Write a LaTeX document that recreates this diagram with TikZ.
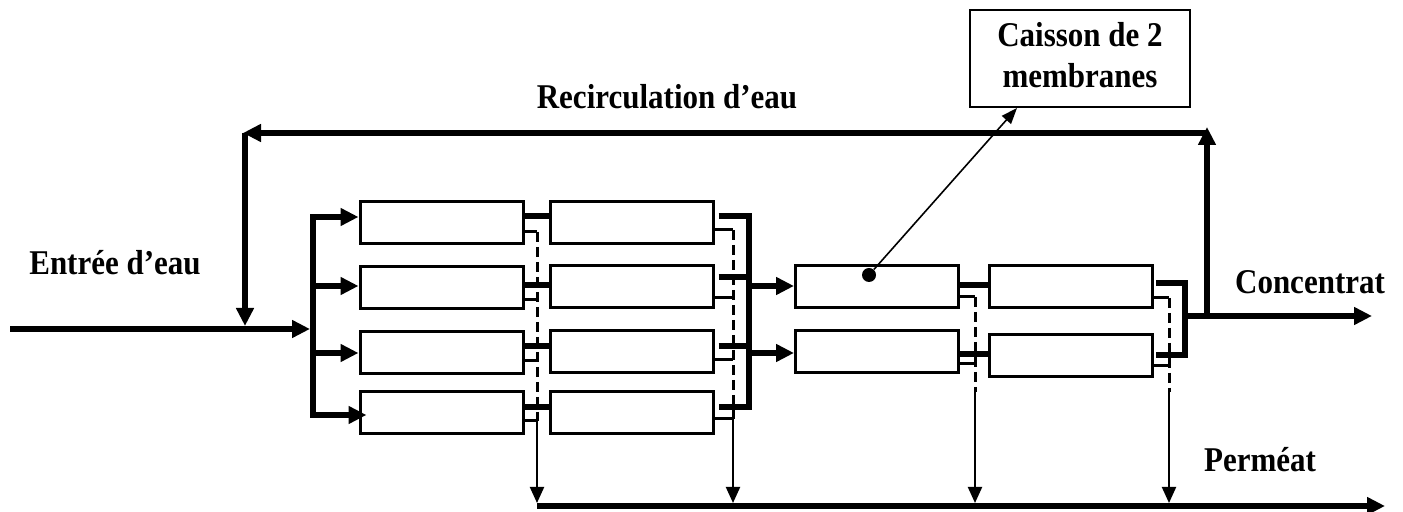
\documentclass[tikz,border=0pt]{standalone}
\usepackage{fontspec}
\setmainfont{Liberation Serif}
\usetikzlibrary{arrows.meta}
\newcommand{\tall}[1]{\scalebox{1}[1.12]{#1}}
\begin{document}
\begin{tikzpicture}[x=0.5pt,y=-0.5pt,
  mem/.style={draw, line width=1.5pt, minimum width=81.5pt, minimum height=21pt, inner sep=0pt},
  thk/.style={line width=3pt},
  big/.style={-{Triangle[length=9pt,width=8.5pt]}},
  perm/.style={line width=1.5pt},
  pdash/.style={line width=1.5pt, dash pattern=on 5pt off 2.5pt},
  pdown/.style={line width=1pt, -{Triangle[length=8pt,width=7pt]}},
  lab/.style={font=\fontsize{15.5}{18.5}\selectfont\bfseries, inner sep=0pt}
]
\path[use as bounding box] (0,0) rectangle (1403,512);

% membrane boxes
\node[mem] (a1) at (441.5,222.5) {};
\node[mem] (a2) at (441.5,288) {};
\node[mem] (a3) at (441.5,353) {};
\node[mem] (a4) at (441.5,413) {};
\node[mem] (b1) at (631.5,223) {};
\node[mem] (b2) at (631.5,287) {};
\node[mem] (b3) at (631.5,352) {};
\node[mem] (b4) at (631.5,413) {};
\node[mem] (c1) at (877,286.5) {};
\node[mem] (c2) at (877,352) {};
\node[mem] (d1) at (1071,286.5) {};
\node[mem] (d2) at (1071,356) {};

% texts
\node[lab] (tin) at (115,263) {\tall{Entrée d’eau}};
\node[lab] (trec) at (667,97) {\tall{Recirculation d’eau}};
\node[lab] (tcon) at (1310,282) {\tall{Concentrat}};
\node[lab] (tper) at (1260,460) {\tall{Perméat}};
\node[lab, draw, line width=1pt, minimum width=110pt, minimum height=48.5pt] (lbl) at (1080,58.5) {\raisebox{-2.5pt}{\tall{\begin{tabular}{@{}c@{}}Caisson de 2\\membranes\end{tabular}}}};

% coordinates
\coordinate (inl) at (10,329);
\coordinate (fm) at (313,329);
\coordinate (rcb) at (1207,316);
\coordinate (rct) at (1207,127);
\coordinate (rcr) at (1207,133);
\coordinate (rcl) at (243,133);
\coordinate (rcd) at (245,133);
\coordinate (rce) at (245,329);
\coordinate (cc) at (1185,316);
\coordinate (ce) at (1372,316);
\coordinate (pl) at (537,506);
\coordinate (pr) at (1385,506);

% feed
\draw[thk,big,shorten >=1.5pt] (inl) -- (fm);
\draw[thk,{Triangle[length=9pt,width=8.5pt]}-{Triangle[length=9pt,width=8.5pt]}] (a1.west |- 0,217) -- (313,217) -- (313,415) -- ([xshift=4pt]a4.west |- 0,415);
\draw[thk,big] (313,286) -- (a2.west |- 0,286);
\draw[thk,big] (313,353) -- (a3.west |- 0,353);

% recirculation
\draw[thk,big] (rcb) -- (rct);
\draw[thk,big] (rcr) -- (rcl);
\draw[thk,big,shorten >=1.5pt] (rcd) -- (rce);

% stage 1 concentrate A -> B
\draw[thk] (a1.east |- 0,216) -- (b1.west |- 0,216);
\draw[thk] (a2.east |- 0,285) -- (b2.west |- 0,285);
\draw[thk] (a3.east |- 0,346) -- (b3.west |- 0,346);
\draw[thk] (a4.east |- 0,407) -- (b4.west |- 0,407);

% B collector to stage 2
\draw[thk] ([xshift=2pt]b1.east |- 0,216) -- (749,216) -- (749,407) -- ([xshift=2pt]b4.east |- 0,407);
\draw[thk] ([xshift=2pt]b2.east |- 0,277) -- (749,277);
\draw[thk] ([xshift=2pt]b3.east |- 0,346) -- (749,346);
\draw[thk,big] (749,286) -- (c1.west |- 0,286);
\draw[thk,big] (749,353) -- (c2.west |- 0,353);

% C -> D
\draw[thk] (c1.east |- 0,285) -- (d1.west |- 0,285);
\draw[thk] (c2.east |- 0,354) -- (d2.west |- 0,354);

% D collector
\draw[thk] ([xshift=1pt]d1.east |- 0,283) -- (1185,283) -- (1185,355) -- ([xshift=1pt]d2.east |- 0,355);
\draw[thk,big] (cc) -- (ce);

% permeate
\draw[thk,big] (pl) -- (pr);
\foreach \n/\y in {1/232,2/300,3/361,4/421} \draw[perm] (a\n.east |- 0,\y) -- (537,\y);
\draw[pdash] (537,232) -- (537,421);
\draw[pdown] (537,421) -- (537,503);
\foreach \n/\y in {1/230,2/298,3/360,4/419} \draw[perm] (b\n.east |- 0,\y) -- (733,\y);
\draw[pdash] (733,230) -- (733,419);
\draw[pdown] (733,419) -- (733,503);
\foreach \n/\y in {1/297,2/364} \draw[perm] (c\n.east |- 0,\y) -- (975,\y);
\draw[pdash] (975,297) -- (975,392);
\draw[pdown] (975,392) -- (975,503);
\foreach \n/\y in {1/298,2/366} \draw[perm] (d\n.east |- 0,\y) -- (1169,\y);
\draw[pdash] (1169,298) -- (1169,392);
\draw[pdown] (1169,392) -- (1169,503);

% leader
\node[circle, fill, inner sep=0pt, minimum size=7pt] (dot) at (869,275) {};
\draw[line width=0.8pt, -{Triangle[length=8pt,width=6pt]}] (dot) -- (lbl.south -| 1017,0);
\end{tikzpicture}
\end{document}
